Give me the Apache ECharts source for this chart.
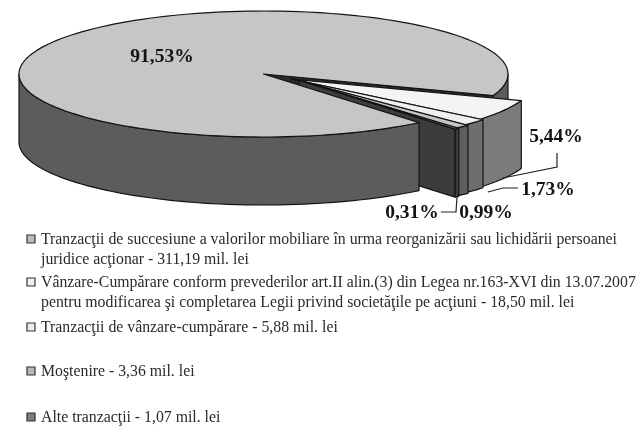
<!DOCTYPE html>
<html>
<head>
<meta charset="utf-8">
<style>
  html, body { margin: 0; padding: 0; background: #fff; }
  #chart { width: 641px; height: 429px; }
</style>
<script src="https://cdn.jsdelivr.net/npm/echarts@6/dist/echarts.min.js"></script>
</head>
<body>
<div id="chart"></div>
<script>
  // date
  var names = [
    'Tranzacţii de succesiune a valorilor mobiliare în urma reorganizării sau lichidării persoanei\njuridice acţionar',
    'Vânzare-Cumpărare conform prevederilor art.II alin.(3) din Legea nr.163-XVI din 13.07.2007\npentru modificarea şi completarea Legii privind societăţile pe acţiuni',
    'Tranzacţii de vânzare-cumpărare',
    'Moştenire',
    'Alte tranzacţii'
  ]
  var amounts = ['311,19', '18,50', '5,88', '3,36', '1,07']
  var shares = [91.53, 5.44, 1.73, 0.99, 0.31]
  var shareLabels = ['91,53%', '5,44%', '1,73%', '0,99%', '0,31%']

  // aspect
  var topColors = ['#c6c6c6', '#f4f4f4', '#efefef', '#c4c4c4', '#8a8a8a']
  var sideColors = ['#5c5c5c', '#7b7b7b', '#6e6e6e', '#5e5e5e', '#3c3c3c']
  var swatchColors = ['#bcbcbc', '#f0f0f0', '#ececec', '#b8b8b8', '#7c7c7c']
  var explode = [0, 0.14, 0.155, 0.17, 0.18]
  var legendY = [239, 282, 327, 371, 417]
  var labelPos = [[162, 57], [556, 137], [548, 190], [486, 213], [412, 213]]
  var leaders = [
    [[557, 153], [557, 167], [503, 178]],
    [[518, 188], [503, 188], [488, 192]],
    [[441, 212], [456, 212], [457, 197]]
  ]
  var pie = {cx: 263.5, cy: 74, rx: 244.5, ry: 63, depth: 68, start: 20, explodeDir: 35}

  function pt (t, ox, oy, down) {
    var a = t * Math.PI / 180
    return [pie.cx + ox + pie.rx * Math.cos(a), pie.cy + oy + pie.ry * Math.sin(a) + (down || 0)]
  }
  function arc (from, to, ox, oy, down) {
    var out = []
    var n = Math.max(2, Math.ceil(Math.abs(to - from) / 2))
    for (var i = 0; i <= n; i++) {
      out.push(pt(from + (to - from) * i / n, ox, oy, down))
    }
    return out
  }
  function poly (points, fill, z2, width) {
    return {
      type: 'polygon',
      z2: z2,
      shape: {points: points},
      style: {fill: fill, stroke: '#141414', lineWidth: width || 1.2, lineJoin: 'round'}
    }
  }
  // peretele lateral, doar partea vizibila (fata)
  function sides (from, to, ox, oy, fill, z2) {
    var out = []
    var bands = [[0, 180], [360, 540]]
    bands.forEach(function (b) {
      var f = Math.max(from, b[0])
      var e = Math.min(to, b[1])
      if (e > f) {
        out.push(poly(arc(f, e, ox, oy).concat(arc(e, f, ox, oy, pie.depth)), fill, z2))
      }
    })
    return out
  }

  function renderSlice (params, api) {
    var idx = params.dataIndex
    var before = 0
    // felia mare incepe dupa cele mici si se inchide la pie.start + 360
    for (var i = 1; i < idx; i++) before += shares[i]
    var total = shares.reduce(function (s, v) { return s + v }, 0)
    var sweep = api.value(0) / total * 360
    var children = []
    if (idx === 0) {
      var to = pie.start + 360
      var from = to - sweep
      var c = [pie.cx, pie.cy]
      // in spate: peretele radial si bucata din dreapta; in fata: restul
      var edge = pt(to, 0, 0)
      children.push(poly([c, edge, [edge[0], edge[1] + pie.depth], [c[0], c[1] + pie.depth]], '#2a2a2a', 0))
      children = children.concat(sides(360, to, 0, 0, sideColors[0], 1))
      children = children.concat(sides(from, 180, 0, 0, sideColors[0], 20))
      children.push(poly([c].concat(arc(from, to, 0, 0)), topColors[0], 21))
      return {type: 'group', children: children}
    }
    var a = pie.explodeDir * Math.PI / 180
    var ox = explode[idx] * pie.rx * Math.cos(a)
    var oy = explode[idx] * pie.ry * Math.sin(a)
    var s = pie.start + before / total * 360
    var e = s + sweep
    var apex = [pie.cx + ox, pie.cy + oy]
    var end = pt(e, ox, oy)
    var z = 2 + idx * 3
    // peretele radial al feliei
    children.push(poly([apex, end, [end[0], end[1] + pie.depth], [apex[0], apex[1] + pie.depth]], sideColors[4], z))
    children = children.concat(sides(s, e, ox, oy, sideColors[idx], z + 1))
    children.push(poly([apex].concat(arc(s, e, ox, oy)), topColors[idx], z + 2))
    return {type: 'group', children: children}
  }

  var graphics = []
  shareLabels.forEach(function (t, i) {
    graphics.push({
      type: 'text',
      x: labelPos[i][0],
      y: labelPos[i][1],
      z: 10,
      style: {text: t, font: 'bold 19.5px "Liberation Serif"', fill: '#141414', align: 'center', verticalAlign: 'middle'}
    })
  })
  leaders.forEach(function (l) {
    graphics.push({
      type: 'polyline',
      z: 10,
      shape: {points: l},
      style: {fill: null, stroke: '#222', lineWidth: 1.2}
    })
  })
  names.forEach(function (n, i) {
    graphics.push({
      type: 'rect',
      z: 10,
      shape: {x: 27, y: legendY[i] - 4, width: 8, height: 8},
      style: {fill: swatchColors[i], stroke: '#333', lineWidth: 1.2}
    })
    graphics.push({
      type: 'text',
      x: 41,
      y: legendY[i] - 9,
      z: 10,
      style: {
        text: n + ' - ' + amounts[i] + ' mil. lei',
        font: '15.8px "Liberation Serif"',
        lineHeight: 20,
        fill: '#2a2a2a',
        align: 'left',
        verticalAlign: 'top'
      }
    })
  })

  var chart = echarts.init(document.getElementById('chart'))
  chart.setOption({
    animation: false,
    backgroundColor: '#fff',
    graphic: {elements: graphics},
    series: [{
      type: 'custom',
      coordinateSystem: 'none',
      renderItem: renderSlice,
      data: shares.map(function (v) { return [v] })
    }]
  })
</script>
</body>
</html>
